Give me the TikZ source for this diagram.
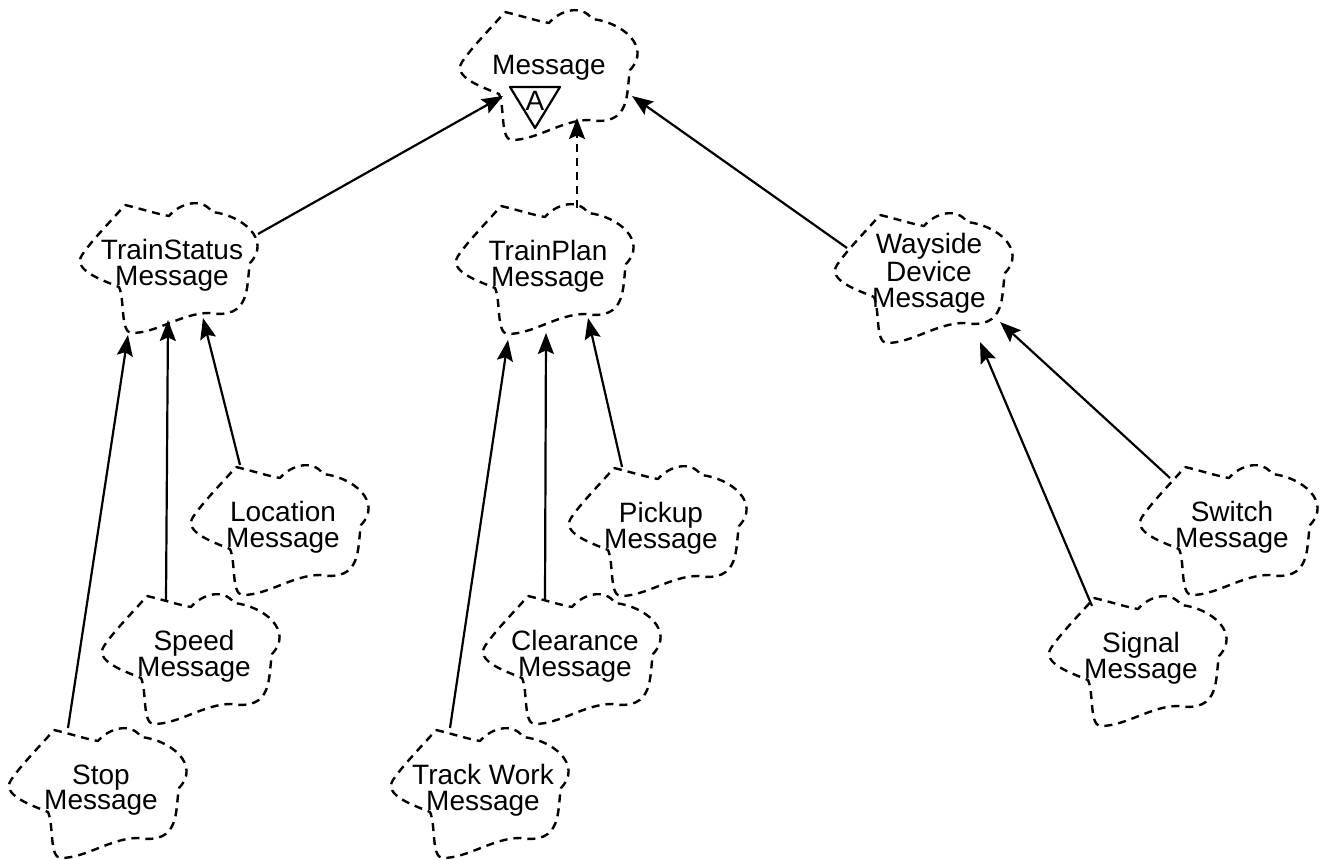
\documentclass[tikz,border=0pt]{standalone}
\usepackage{fontspec}
\setmainfont{Liberation Sans}
\usetikzlibrary{arrows.meta,calc}
\begin{document}
\begin{tikzpicture}[x=0.5pt,y=-0.5pt,
  classname/.style={align=center,font=\fontsize{14}{12.8}\selectfont,inner sep=0pt},
  cloudline/.style={draw=black,line width=1.2pt,dash pattern=on 4pt off 3pt,line join=round},
  inherits/.style={draw=black,line width=1.1pt,-{Stealth[length=10.5pt,width=8pt,inset=1.8pt]}},
  dashedinherits/.style={inherits,dash pattern=on 4pt off 3pt}]
% Booch class icon: a dashed cloud around a given centre
\newcommand\classcloud[1]{%
  \draw[cloudline,shift={(#1)}] (-47,-60)
    .. controls (-30,-56) and (-15,-51) .. (-3,-49)
    .. controls (8,-62) and (30,-68) .. (40,-53)
    .. controls (70,-50) and (100,-25) .. (78,-2)
    .. controls (74,20) and (80,55) .. (37,48)
    .. controls (10,48) and (-15,68) .. (-40,68)
    .. controls (-52,68) and (-47,35) .. (-53,22)
    .. controls (-70,15) and (-100,5) .. (-90,-10)
    .. controls (-80,-25) and (-60,-45) .. (-47,-60) -- cycle;}
\useasboundingbox (0,0) rectangle (1322,860);

% abstract base class
\node[classname] (msg) at (549,68) {Message};
\classcloud{552,72}
\draw[line width=1.1pt,line join=round] ($(msg)+(-39,19)$) -- ($(msg)+(11,19)$) -- ($(msg)+(-14,60)$) -- cycle;
\node[classname] (absA) at ($(msg)+(-14,33)$) {A};

% second level
\node[classname] (ts) at (172,265) {TrainStatus\\Message};
\classcloud{172,265}
\node[classname] (tp) at (548,266) {TrainPlan\\Message};
\classcloud{548,266}
\node[classname] (wd) at (929,273) {Wayside\\Device\\Message};
\classcloud{927,275}

% leaves
\node[classname] (loc) at (283,527) {Location\\Message};
\classcloud{283,527}
\node[classname] (speed) at (194,656) {Speed\\Message};
\classcloud{194,656}
\node[classname] (stop) at (101,790) {Stop\\Message};
\classcloud{101,790}
\node[classname] (pk) at (661,528) {Pickup\\Message};
\classcloud{661,528}
\node[classname] (cl) at (575,656) {Clearance\\Message};
\classcloud{575,656}
\node[classname] (tw) at (483,790) {Track Work\\Message};
\classcloud{483,790}
\node[classname] (sw) at (1232,527) {Switch\\Message};
\classcloud{1232,527}
\node[classname] (sig) at (1141,658) {Signal\\Message};
\classcloud{1141,658}

% inheritance
\draw[inherits] ($(ts)+(86,-31)$) -- ($(msg)+(-46,28)$);
\draw[dashedinherits] ($(tp)+(29,-58)$) -- ($(msg)+(28,50)$);
\draw[inherits] ($(wd)+(-82,-25)$) -- ($(msg)+(83,28)$);

\draw[inherits] ($(stop)+(-33,-62)$) -- ($(ts)+(-44,70)$);
\draw[inherits] ($(speed)+(-28,-56)$) -- ($(ts)+(-4,55)$);
\draw[inherits] ($(loc)+(-43,-62)$) -- ($(ts)+(31,53)$);

\draw[inherits] ($(tw)+(-33,-62)$) -- ($(tp)+(-40,74)$);
\draw[inherits] ($(cl)+(-30,-56)$) -- ($(tp)+(-2,67)$);
\draw[inherits] ($(pk)+(-39,-61)$) -- ($(tp)+(40,52)$);

\draw[inherits] ($(sig)+(-49,-52)$) -- ($(wd)+(51,69)$);
\draw[inherits] ($(sw)+(-62,-49)$) -- ($(wd)+(71,49)$);
\end{tikzpicture}
\end{document}
